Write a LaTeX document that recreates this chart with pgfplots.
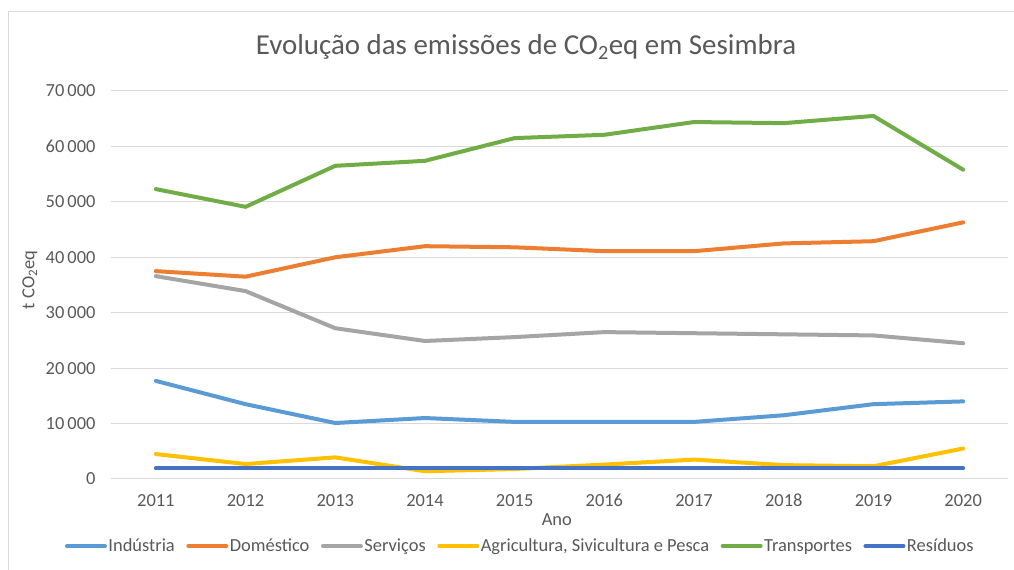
\documentclass[border=0pt]{standalone}
\usepackage{fontspec}
\setmainfont{Carlito}
\usepackage{pgfplots}
\pgfplotsset{compat=1.18}
\definecolor{cInd}{HTML}{5B9BD5}
\definecolor{cDom}{HTML}{ED7D31}
\definecolor{cSer}{HTML}{A5A5A5}
\definecolor{cAgr}{HTML}{FFC000}
\definecolor{cTra}{HTML}{70AD47}
\definecolor{cRes}{HTML}{4472C4}
\definecolor{txt}{HTML}{595959}
\definecolor{cGrid}{HTML}{D9D9D9}
\begin{document}
\begin{tikzpicture}[x=1bp,y=1bp]
\useasboundingbox (0,0) rectangle (1014,570);
\fill[white] (0,0) rectangle (1014,570);
\draw[cGrid, line width=1bp] (8,-5) -- (8,558) -- (1020,558);
\node[txt, font=\fontsize{29}{31}\selectfont, anchor=center] at (526,523) {Evolução das emissões de CO\textsubscript{2}eq em Sesimbra};
\begin{axis}[
  at={(111bp,91bp)}, anchor=south west,
  scale only axis, width=897bp, height=388bp,
  xmin=-0.5, xmax=9.5, ymin=0, ymax=70000,
  xtick={0,...,9},
  xticklabels={2011,2012,2013,2014,2015,2016,2017,2018,2019,2020},
  ytick={0,10000,...,70000},
  scaled y ticks=false,
  /pgf/number format/.cd, assume math mode=true, 1000 sep={\,}, /pgfplots/.cd,
  ymajorgrids, xmajorgrids=false,
  grid style={cGrid, line width=1bp},
  axis line style={draw=none},
  major tick length=0pt,
  tick label style={txt, font=\fontsize{18.5}{20}\selectfont},
  yticklabel style={xshift=-12bp},
  xticklabel style={yshift=-12bp, text height=12bp, text depth=1bp},
  xlabel={Ano}, ylabel={t CO\textsubscript{2}eq},
  label style={txt, font=\fontsize{18.5}{20}\selectfont},
  xlabel style={at={(axis description cs:0.497,0)}, anchor=center, yshift=-41bp},
  ylabel style={at={(axis description cs:-0.0903,0.513)}, anchor=center},
  legend columns=6,
  legend style={at={(0.456,-0.173)}, anchor=center, draw=none, fill=none,
    font=\fontsize{18.5}{20}\selectfont, text=txt,
    nodes={inner xsep=1.5bp},
    /tikz/every even column/.append style={column sep=10bp}},
  legend image code/.code={\draw[#1, line width=4bp, line cap=round] (0bp,0bp) -- (38bp,0bp);},
  every axis plot/.append style={line width=4bp, line join=round, line cap=round},
  clip=false,
]
\addplot[cGrid, line width=1bp, line cap=butt, forget plot] coordinates {(-0.5,0)(9.5,0)};
\addplot[cInd] coordinates {(0,17700)(1,13500)(2,10100)(3,11000)(4,10300)(5,10300)(6,10300)(7,11500)(8,13500)(9,14000)};
\addlegendentry{Indústria}
\addplot[cDom] coordinates {(0,37500)(1,36500)(2,40000)(3,42000)(4,41800)(5,41100)(6,41100)(7,42500)(8,42900)(9,46300)};
\addlegendentry{Doméstico}
\addplot[cSer] coordinates {(0,36600)(1,33900)(2,27200)(3,24900)(4,25600)(5,26500)(6,26300)(7,26100)(8,25900)(9,24500)};
\addlegendentry{Serviços}
\addplot[cAgr] coordinates {(0,4500)(1,2700)(2,3900)(3,1400)(4,1800)(5,2600)(6,3500)(7,2500)(8,2300)(9,5500)};
\addlegendentry{Agricultura, Sivicultura e Pesca}
\addplot[cTra] coordinates {(0,52300)(1,49100)(2,56500)(3,57400)(4,61500)(5,62100)(6,64400)(7,64200)(8,65500)(9,55800)};
\addlegendentry{Transportes}
\addplot[cRes] coordinates {(0,1900)(1,1900)(2,1900)(3,1900)(4,1900)(5,1900)(6,1900)(7,1900)(8,1900)(9,1900)};
\addlegendentry{Resíduos}
\end{axis}
\end{tikzpicture}
\end{document}
